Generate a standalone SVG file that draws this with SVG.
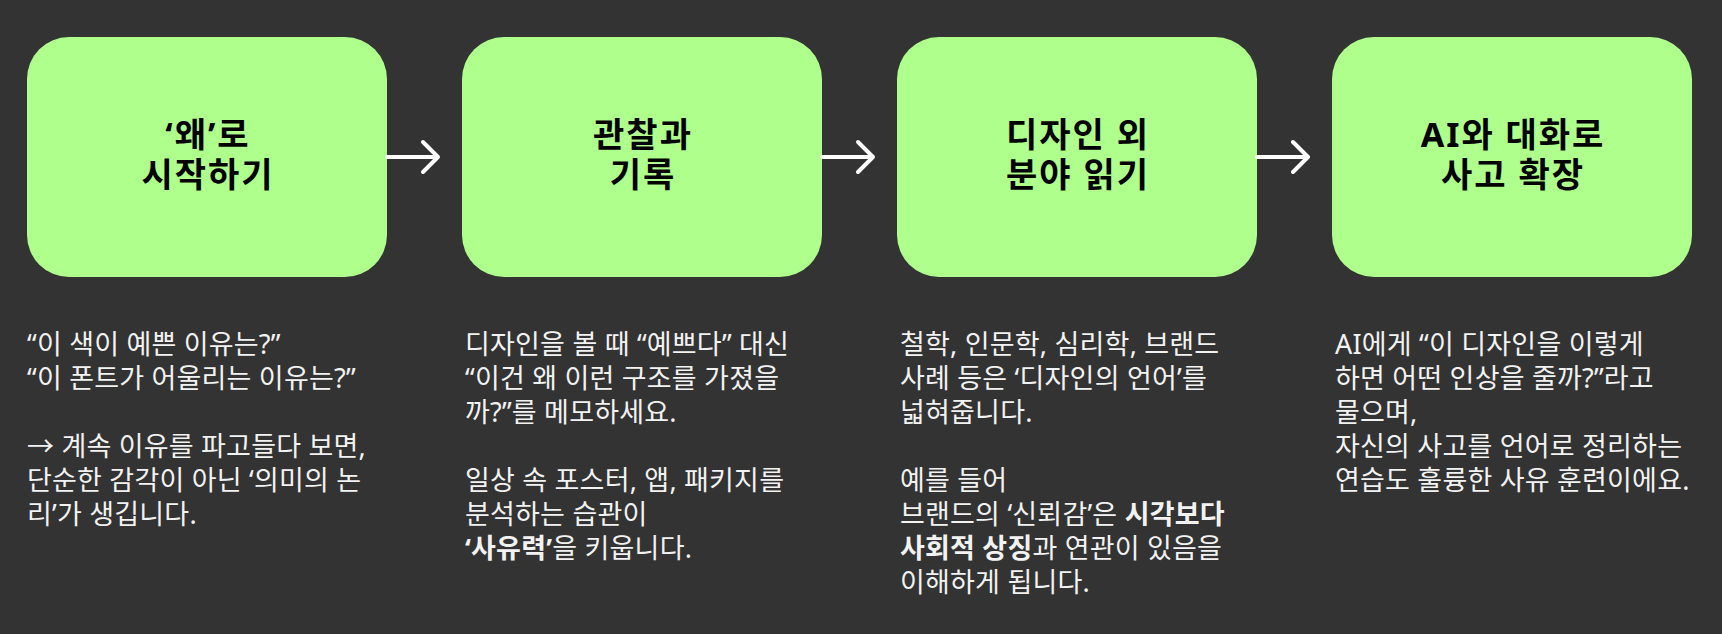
<svg xmlns="http://www.w3.org/2000/svg" width="1722" height="634" viewBox="0 0 1722 634">
<style>
.box{fill:#AEFF8C}
.title{font-family:"Noto Sans","Noto Sans CJK KR",sans-serif;font-weight:700;font-size:34px;letter-spacing:2px;fill:#000;text-anchor:middle}
.body{font-family:"Noto Sans","Noto Sans CJK KR",sans-serif;font-size:27px;letter-spacing:0.2px;fill:#F2F2F2}
.b{font-weight:700}
.conn{fill:none;stroke:#FFFFFF;stroke-width:4;stroke-linecap:round;stroke-linejoin:round}
</style>
<rect x="0" y="0" width="1722" height="634" fill="#333333"/>
<g id="node1">
<rect class="box" x="27" y="37" width="360" height="240" rx="42"/>
<text class="title"><tspan x="208" y="147">‘왜’로</tspan><tspan x="208" y="187">시작하기</tspan></text>
<text class="body"><tspan x="27" y="354">“이 색이 예쁜 이유는?”</tspan><tspan x="27" y="388">“이 폰트가 어울리는 이유는?”</tspan><tspan x="27" y="456">→ 계속 이유를 파고들다 보면,</tspan><tspan x="27" y="490">단순한 감각이 아닌 ‘의미의 논</tspan><tspan x="27" y="524">리’가 생깁니다.</tspan></text>
</g>
<g id="node2">
<rect class="box" x="462" y="37" width="360" height="240" rx="42"/>
<text class="title"><tspan x="643" y="147">관찰과</tspan><tspan x="643" y="187">기록</tspan></text>
<text class="body"><tspan x="465" y="354">디자인을 볼 때 “예쁘다” 대신</tspan><tspan x="465" y="388">“이건 왜 이런 구조를 가졌을</tspan><tspan x="465" y="422">까?”를 메모하세요.</tspan><tspan x="465" y="490">일상 속 포스터, 앱, 패키지를</tspan><tspan x="465" y="524">분석하는 습관이</tspan><tspan x="465" y="558"><tspan class="b">‘사유력’</tspan>을 키웁니다.</tspan></text>
</g>
<g id="node3">
<rect class="box" x="897" y="37" width="360" height="240" rx="42"/>
<text class="title"><tspan x="1078" y="147">디자인 외</tspan><tspan x="1078" y="187">분야 읽기</tspan></text>
<text class="body"><tspan x="900" y="354">철학, 인문학, 심리학, 브랜드</tspan><tspan x="900" y="388">사례 등은 ‘디자인의 언어’를</tspan><tspan x="900" y="422">넓혀줍니다.</tspan><tspan x="900" y="490">예를 들어</tspan><tspan x="900" y="524">브랜드의 ‘신뢰감’은 <tspan class="b">시각보다</tspan></tspan><tspan x="900" y="558"><tspan class="b">사회적 상징</tspan>과 연관이 있음을</tspan><tspan x="900" y="592">이해하게 됩니다.</tspan></text>
</g>
<g id="node4">
<rect class="box" x="1332" y="37" width="360" height="240" rx="42"/>
<text class="title"><tspan x="1513" y="147">AI와 대화로</tspan><tspan x="1513" y="187">사고 확장</tspan></text>
<text class="body"><tspan x="1335" y="354">AI에게 “이 디자인을 이렇게</tspan><tspan x="1335" y="388">하면 어떤 인상을 줄까?”라고</tspan><tspan x="1335" y="422">물으며,</tspan><tspan x="1335" y="456">자신의 사고를 언어로 정리하는</tspan><tspan x="1335" y="490">연습도 훌륭한 사유 훈련이에요.</tspan></text>
</g>
<g id="connectors">
<path class="conn" d="M387 157H438M423 142L438 157L423 172"/>
<path class="conn" d="M822 157H873M858 142L873 157L858 172"/>
<path class="conn" d="M1257 157H1308M1293 142L1308 157L1293 172"/>
</g>
</svg>
